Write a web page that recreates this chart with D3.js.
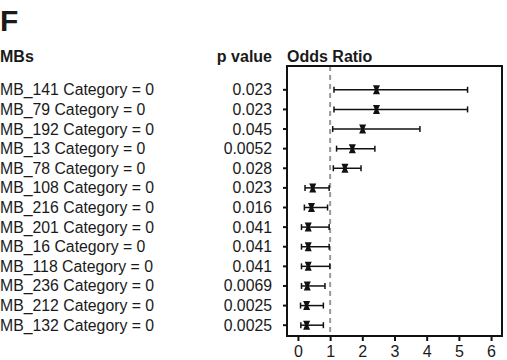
<!DOCTYPE html>
<html>
<head>
  <style>
    body { margin: 0; background: #fff; }
    text { font-family: "Liberation Sans", Arial, sans-serif; fill: #1a1a1a; }
    .bold { font-weight: bold; }
  </style>
</head>
<body>
  <svg id="chart" width="507" height="360"></svg>

  <script src="https://d3js.org/d3.v7.min.js"></script>
  <script>
    // Forest plot data
    const labels = ["MB_141 Category = 0", "MB_79 Category = 0", "MB_192 Category = 0",
      "MB_13 Category = 0", "MB_78 Category = 0", "MB_108 Category = 0", "MB_216 Category = 0",
      "MB_201 Category = 0", "MB_16 Category = 0", "MB_118 Category = 0", "MB_236 Category = 0",
      "MB_212 Category = 0", "MB_132 Category = 0"];
    const pValues = ["0.023", "0.023", "0.045", "0.0052", "0.028", "0.023", "0.016",
      "0.041", "0.041", "0.041", "0.0069", "0.0025", "0.0025"];
    const oddsRatio = [2.44, 2.44, 2.01, 1.69, 1.46, 0.46, 0.42, 0.32, 0.32, 0.32, 0.29, 0.27, 0.27];
    const lower = [1.12, 1.12, 1.08, 1.2, 1.1, 0.22, 0.2, 0.11, 0.11, 0.11, 0.11, 0.08, 0.09];
    const upper = [5.27, 5.27, 3.79, 2.39, 1.96, 0.97, 0.92, 0.97, 0.97, 0.99, 0.84, 0.79, 0.79];
    const xTicks = [0, 1, 2, 3, 4, 5, 6];

    const rows = labels.map((d, i) => ({
      label: d, p: pValues[i], or: oddsRatio[i], lo: lower[i], hi: upper[i]
    }));

    const svg = d3.select("#chart");
    const box = { left: 287, right: 502, top: 66, bottom: 336 };

    const x = d3.scaleLinear()
      .domain([-0.34, 6.34])
      .range([box.left, box.right]);

    const y = d3.scaleBand()
      .domain(d3.range(rows.length))
      .range([80, 335])
      .padding(0);

    // Panel letter and headers
    svg.append("text").attr("class", "bold")
      .attr("x", 0).attr("y", 31)
      .style("font-size", "30px")
      .text("F");
    svg.append("text").attr("class", "bold")
      .attr("x", 0).attr("y", 62)
      .style("font-size", "16px")
      .text("MBs");
    svg.append("text").attr("class", "bold")
      .attr("x", 272).attr("y", 62)
      .attr("text-anchor", "end")
      .style("font-size", "16px")
      .text("p value");
    svg.append("text").attr("class", "bold")
      .attr("x", box.left).attr("y", 62)
      .style("font-size", "16px")
      .text("Odds Ratio");

    // Row labels and p values
    svg.selectAll(".row-label")
      .data(rows)
      .enter().append("text")
      .attr("class", "row-label")
      .attr("x", 0)
      .attr("y", (d, i) => y(i) + y.bandwidth() / 2)
      .attr("dy", "0.35em")
      .style("font-size", "15.8px")
      .text(d => d.label);

    svg.selectAll(".p-label")
      .data(rows)
      .enter().append("text")
      .attr("class", "p-label")
      .attr("x", 272)
      .attr("y", (d, i) => y(i) + y.bandwidth() / 2)
      .attr("dy", "0.35em")
      .attr("text-anchor", "end")
      .style("font-size", "15.8px")
      .text(d => d.p);

    // Reference line at OR = 1
    svg.append("line")
      .attr("x1", x(1)).attr("x2", x(1))
      .attr("y1", box.top).attr("y2", box.bottom)
      .attr("stroke", "#999")
      .attr("stroke-width", 2)
      .attr("stroke-dasharray", "5,4");

    // Plot frame
    svg.append("rect")
      .attr("x", box.left).attr("y", box.top)
      .attr("width", box.right - box.left)
      .attr("height", box.bottom - box.top)
      .attr("fill", "none")
      .attr("stroke", "#111")
      .attr("stroke-width", 2);

    // Left row ticks
    svg.selectAll(".ytick")
      .data(rows)
      .enter().append("line")
      .attr("x1", box.left - 4).attr("x2", box.left)
      .attr("y1", (d, i) => y(i) + y.bandwidth() / 2)
      .attr("y2", (d, i) => y(i) + y.bandwidth() / 2)
      .attr("stroke", "#111")
      .attr("stroke-width", 2);

    // Bottom axis
    const xAxis = svg.append("g")
      .attr("transform", `translate(0,${box.bottom})`)
      .call(d3.axisBottom(x).tickValues(xTicks).tickFormat(d3.format("d")).tickSize(5).tickSizeOuter(0));
    xAxis.select(".domain").remove();
    xAxis.selectAll(".tick line").attr("stroke", "#111").attr("stroke-width", 2);
    xAxis.selectAll(".tick text")
      .attr("y", 10)
      .style("font-size", "16px")
      .style("font-family", "'Liberation Sans', Arial, sans-serif")
      .attr("fill", "#1a1a1a");

    // Error bars
    const bars = svg.selectAll(".bar")
      .data(rows)
      .enter().append("g")
      .attr("class", "bar")
      .attr("transform", (d, i) => `translate(0,${y(i) + y.bandwidth() / 2})`);

    bars.append("line")
      .attr("x1", d => x(d.lo)).attr("x2", d => x(d.hi))
      .attr("stroke", "#111").attr("stroke-width", 1.5);
    bars.append("line")
      .attr("x1", d => x(d.lo)).attr("x2", d => x(d.lo))
      .attr("y1", -3).attr("y2", 3)
      .attr("stroke", "#111").attr("stroke-width", 1.5);
    bars.append("line")
      .attr("x1", d => x(d.hi)).attr("x2", d => x(d.hi))
      .attr("y1", -3).attr("y2", 3)
      .attr("stroke", "#111").attr("stroke-width", 1.5);

    // Hourglass marker at the odds ratio
    bars.append("path")
      .attr("transform", d => `translate(${x(d.or)},0)`)
      .attr("d", "M-3.5,-4.5H3.5L1.5,0L3.5,4.5H-3.5L-1.5,0Z")
      .attr("fill", "#111");
  </script>
</body>
</html>
